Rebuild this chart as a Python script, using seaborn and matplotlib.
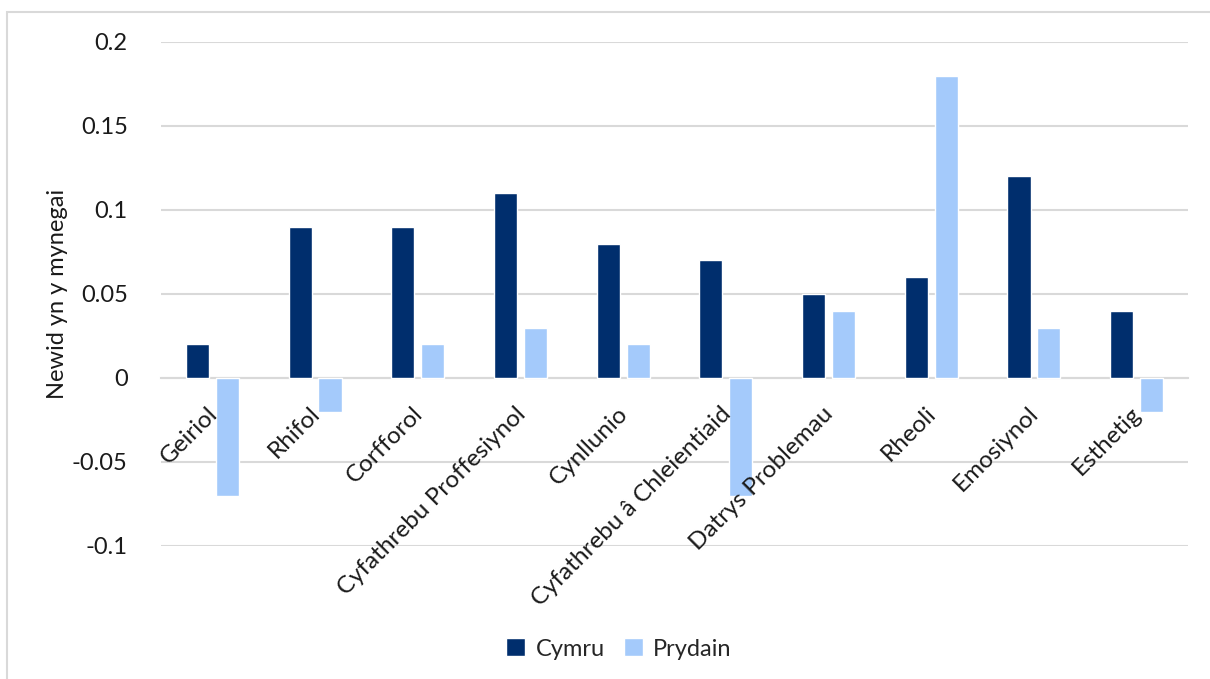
import matplotlib
matplotlib.use("Agg")
import matplotlib.pyplot as plt
from matplotlib.patches import Rectangle
import matplotlib.transforms as mtransforms
import seaborn as sns
import pandas as pd

categories = ["Geiriol", "Rhifol", "Corfforol", "Cyfathrebu Proffesiynol",
              "Cynllunio", "Cyfathrebu â Chleientiaid", "Datrys Problemau",
              "Rheoli", "Emosiynol", "Esthetig"]
cymru = [0.02, 0.09, 0.09, 0.11, 0.08, 0.07, 0.05, 0.06, 0.12, 0.04]
prydain = [-0.07, -0.02, 0.02, 0.03, 0.02, -0.07, 0.04, 0.18, 0.03, -0.02]
series_names = ["Cymru", "Prydain"]
y_ticks = [-0.1, -0.05, 0, 0.05, 0.1, 0.15, 0.2]
y_tick_labels = ["-0.1", "-0.05", "0", "0.05", "0.1", "0.15", "0.2"]
y_label = "Newid yn y mynegai"

df = pd.DataFrame({
    "categori": categories * 2,
    "gwerth": cymru + prydain,
    "cyfres": [series_names[0]] * len(categories) + [series_names[1]] * len(categories),
})

sns.set_theme(style="white")
plt.rcParams["font.family"] = ["Lato", "DejaVu Sans"]

fig = plt.figure(figsize=(12.1, 6.79), dpi=100)
ax = fig.add_axes([161 / 1210, 1 - 546 / 679, (1188 - 161) / 1210, (546 - 42) / 679])

palette = {"Cymru": "#002E6D", "Prydain": "#A4CAFB"}
sns.barplot(data=df, x="categori", y="gwerth", hue="cyfres", order=categories,
            hue_order=series_names, palette=palette, width=0.584, gap=0.23,
            saturation=1, ax=ax, legend=True)

ax.set_ylim(-0.1, 0.2)
ax.set_xlim(-0.5, len(categories) - 0.5)
ax.set_yticks(y_ticks)
ax.set_yticklabels(y_tick_labels, fontsize=17, color="#1a1a1a")
ax.tick_params(axis="y", length=0, pad=24)
ax.yaxis.grid(True, color="#D9D9D9", linewidth=1.5)
ax.set_axisbelow(True)
for s in ["top", "right", "left"]:
    ax.spines[s].set_visible(False)
ax.spines["bottom"].set_position(("data", 0))
ax.spines["bottom"].set_color("#D9D9D9")
ax.spines["bottom"].set_linewidth(1.5)
ax.spines["bottom"].set_zorder(0.6)

# category labels sit on the zero line, drawn above the bars
ax.set_xlabel("")
ax.tick_params(axis="x", length=0, pad=18)
ax.set_xticks(range(len(categories)))
ax.set_xticklabels(categories, rotation=45, ha="right", rotation_mode="anchor",
                   fontsize=17.5, color="#1a1a1a")
shift = mtransforms.ScaledTranslation(-6 / 100, 0, fig.dpi_scale_trans)
for lbl in ax.get_xticklabels():
    lbl.set_transform(lbl.get_transform() + shift)
ax.xaxis.set_zorder(3)

ax.set_ylabel("")
fig.text(58 / 1210, 1 - 294 / 679, y_label, rotation=90, ha="center", va="center",
         fontsize=17, color="#1a1a1a")

ax.legend_.remove()
handles, labels = ax.get_legend_handles_labels()
fig.legend(handles[:2], labels[:2], loc="center", bbox_to_anchor=(619 / 1210, 1 - 649 / 679),
           ncol=2, frameon=False, fontsize=17, handlelength=0.8, handleheight=0.8,
           handletextpad=0.45, columnspacing=0.8)

fig.patches.append(Rectangle((7 / 1210, -0.05), 1.1, 1 - 12 / 679 + 0.05,
                             transform=fig.transFigure, fill=False,
                             edgecolor="#D9D9D9", linewidth=1.5))

fig.savefig("out.png", dpi=100)
